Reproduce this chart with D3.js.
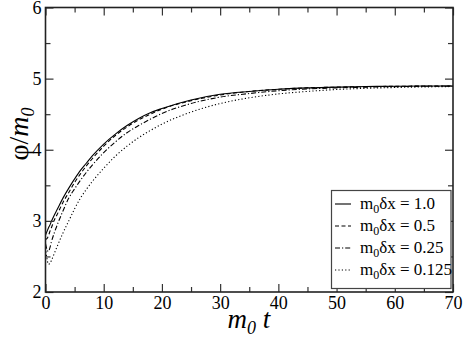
<!DOCTYPE html>
<html>
<head>
<meta charset="utf-8">
<script src="https://cdn.jsdelivr.net/npm/d3@7"></script>
<style>
  body { margin: 0; background: #fff; }
  svg { display: block; }
</style>
</head>
<body>
<svg id="chart" width="463" height="340"></svg>
<script>
// data
var tValues = [0, 0.25, 0.5, 0.75, 1, 1.5, 2, 3, 4, 5, 6, 7, 8, 10, 12, 14, 16, 18, 20, 25, 30, 35, 40, 45, 50, 55, 60, 65, 70];
var phiDx1 =    [2.80, 2.85, 2.90, 2.94, 2.99, 3.08, 3.16, 3.32, 3.46, 3.59, 3.71, 3.81, 3.91, 4.08, 4.22, 4.34, 4.44, 4.52, 4.58, 4.70, 4.78, 4.82, 4.85, 4.87, 4.88, 4.89, 4.893, 4.896, 4.897];
var phiDx05 =   [2.74, 2.75, 2.79, 2.85, 2.90, 3.01, 3.09, 3.26, 3.40, 3.54, 3.66, 3.77, 3.87, 4.05, 4.20, 4.32, 4.42, 4.50, 4.57, 4.69, 4.77, 4.82, 4.85, 4.87, 4.88, 4.887, 4.892, 4.895, 4.897];
var phiDx025 =  [2.68, 2.60, 2.57, 2.62, 2.70, 2.83, 2.94, 3.14, 3.32, 3.45, 3.57, 3.68, 3.78, 3.96, 4.11, 4.24, 4.34, 4.43, 4.51, 4.65, 4.74, 4.79, 4.83, 4.855, 4.87, 4.88, 4.888, 4.892, 4.895];
var phiDx0125 = [2.62, 2.47, 2.39, 2.40, 2.44, 2.54, 2.64, 2.83, 3.00, 3.17, 3.32, 3.44, 3.55, 3.74, 3.91, 4.05, 4.17, 4.27, 4.36, 4.53, 4.65, 4.73, 4.785, 4.82, 4.847, 4.864, 4.875, 4.883, 4.889];
var seriesNames = ["1.0", "0.5", "0.25", "0.125"];
var xTicks = [0, 10, 20, 30, 40, 50, 60, 70];
var xMinor = [5, 15, 25, 35, 45, 55, 65];
var yTicks = [2, 3, 4, 5, 6];
var yMinor = [2.5, 3.5, 4.5, 5.5];

var series = [phiDx1, phiDx05, phiDx025, phiDx0125];
var dashes = ["none", "4,2.5", "5,2,1.2,2", "1.2,2.2"];
var FONT = "'Liberation Serif', 'Times New Roman', serif";

var plotL = 45.5, plotR = 453, plotT = 7.5, plotB = 292;
var svg = d3.select("#chart");

var x = d3.scaleLinear().domain([0, 70]).range([plotL, plotR]);
var y = d3.scaleLinear().domain([2, 6]).range([plotB, plotT]);

// curves
var line = d3.line().x(function(d) { return x(d[0]); }).y(function(d) { return y(d[1]); }).curve(d3.curveMonotoneX);
series.forEach(function(s, i) {
  svg.append("path")
    .datum(tValues.map(function(t, j) { return [t, s[j]]; }))
    .attr("d", line)
    .attr("fill", "none")
    .attr("stroke", "#000")
    .attr("stroke-width", 1.1)
    .attr("stroke-dasharray", dashes[i]);
});

// axes with inward ticks on all four sides
function addAxis(axis, tx, ty) {
  var g = svg.append("g").attr("transform", "translate(" + tx + "," + ty + ")").call(axis);
  g.select(".domain").remove();
  g.selectAll(".tick line").attr("stroke", "#333").attr("stroke-width", 1.2);
  g.selectAll("text").style("font-family", FONT).attr("fill", "#000");
  return g;
}
var xb = addAxis(d3.axisBottom(x).tickValues(xTicks).tickSize(-8).tickPadding(3).tickFormat(d3.format("d")), 0, plotB);
xb.selectAll("text").style("font-size", "18px").attr("dy", "0.75em");
addAxis(d3.axisBottom(x).tickValues(xMinor).tickSize(-5).tickFormat(""), 0, plotB);
addAxis(d3.axisTop(x).tickValues(xTicks).tickSize(-8).tickFormat(""), 0, plotT);
addAxis(d3.axisTop(x).tickValues(xMinor).tickSize(-5).tickFormat(""), 0, plotT);
var yl = addAxis(d3.axisLeft(y).tickValues(yTicks).tickSize(-8).tickFormat(d3.format("d")), plotL, 0);
yl.selectAll("text").style("font-size", "18px").attr("x", -4).attr("dy", "0.33em");
addAxis(d3.axisLeft(y).tickValues(yMinor).tickSize(-5).tickFormat(""), plotL, 0);
addAxis(d3.axisRight(y).tickValues(yTicks).tickSize(-8).tickFormat(""), plotR, 0);
addAxis(d3.axisRight(y).tickValues(yMinor).tickSize(-5).tickFormat(""), plotR, 0);

svg.append("rect")
  .attr("x", plotL).attr("y", plotT)
  .attr("width", plotR - plotL).attr("height", plotB - plotT)
  .attr("fill", "none").attr("stroke", "#222").attr("stroke-width", 1.6);

// axis titles
var xt = svg.append("text").attr("x", 249).attr("y", 328).attr("text-anchor", "middle")
  .style("font-family", FONT).style("font-size", "27px").style("font-style", "italic");
xt.append("tspan").text("m");
xt.append("tspan").style("font-size", "18px").attr("dy", 6).text("0");
xt.append("tspan").attr("dy", -6).text(" t");

var yt = svg.append("text").attr("transform", "translate(28,134) rotate(-90)").attr("text-anchor", "middle")
  .style("font-family", FONT).style("font-size", "28px");
yt.append("tspan").text("\u03C6/");
yt.append("tspan").style("font-style", "italic").text("m");
yt.append("tspan").style("font-style", "italic").style("font-size", "18px").attr("dy", 6).text("0");

// legend
var lg = svg.append("g");
lg.append("rect").attr("x", 331.5).attr("y", 190.5).attr("width", 119.5).attr("height", 98)
  .attr("fill", "#fff").attr("stroke", "#444").attr("stroke-width", 1.2);
seriesNames.forEach(function(name, i) {
  var ry = 204 + i * 22;
  lg.append("line").attr("x1", 335).attr("x2", 351).attr("y1", ry).attr("y2", ry)
    .attr("stroke", "#000").attr("stroke-width", 1.1).attr("stroke-dasharray", dashes[i]);
  var t = lg.append("text").attr("x", 360).attr("y", ry + 5)
    .style("font-family", FONT).style("font-size", "17px");
  t.append("tspan").text("m");
  t.append("tspan").style("font-size", "12px").attr("dy", 4).text("0");
  t.append("tspan").attr("dy", -4).text("\u03B4x = " + name);
});
</script>
</body>
</html>
